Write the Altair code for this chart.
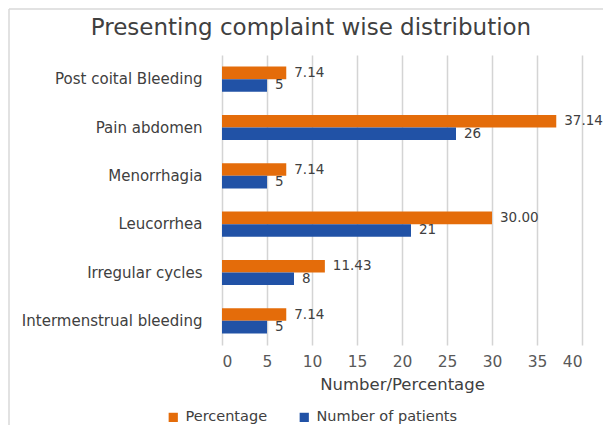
import altair as alt
import pandas as pd

categories = ["Post coital Bleeding", "Pain abdomen", "Menorrhagia",
              "Leucorrhea", "Irregular cycles", "Intermenstrual bleeding"]
percentage = [7.14, 37.14, 7.14, 30.00, 11.43, 7.14]
patients = [5, 26, 5, 21, 8, 5]
series = ["Percentage", "Number of patients"]
colors = ["#E46C0A", "#2152A6"]
x_ticks = [0, 5, 10, 15, 20, 25, 30, 35, 40]
title_text = "Presenting complaint wise distribution"

rows = []
for c, p, n in zip(categories, percentage, patients):
    rows.append({"cat": c, "series": series[0], "value": p, "label": f"{p:.2f}"})
    rows.append({"cat": c, "series": series[1], "value": n, "label": f"{n:d}"})
df = pd.DataFrame(rows)

FONT = "DejaVu Sans"

y_enc = alt.Y("cat:N", sort=categories, title=None,
              scale=alt.Scale(paddingInner=0.48, paddingOuter=0.24),
              axis=alt.Axis(ticks=False, domain=False, labelPadding=20, labelLimit=260,
                            labelFontSize=15, labelColor="#404040", labelFont=FONT))
yoff = alt.YOffset("series:N", sort=series)
x_enc = alt.X("value:Q", title="Number/Percentage",
              scale=alt.Scale(domain=[0, 40], nice=False),
              axis=alt.Axis(values=x_ticks, grid=True, gridColor="#d4d4d4", gridWidth=1.5,
                            ticks=False, domain=False, labelPadding=9,
                            labelFontSize=15.5, labelColor="#595959", labelFont=FONT,
                            titleFontSize=16.5, titleFontWeight="normal", titleColor="#404040",
                            titleFont=FONT, titlePadding=7))

bars = alt.Chart(df).mark_bar().encode(
    y=y_enc, yOffset=yoff, x=x_enc,
    color=alt.Color("series:N", sort=series,
                    scale=alt.Scale(domain=series, range=colors),
                    legend=alt.Legend(title=None, orient="none", direction="horizontal",
                                      legendX=-56, legendY=355, symbolType="square",
                                      symbolSize=85, symbolStrokeWidth=0,
                                      labelFontSize=14.5, labelFont=FONT, labelColor="#404040",
                                      columnPadding=29, labelOffset=5)),
)

labels = alt.Chart(df).mark_text(align="left", dx=8, fontSize=13.5, font=FONT,
                                 color="#404040").encode(
    y=alt.Y("cat:N", sort=categories), yOffset=yoff, x="value:Q", text="label:N"
)

title_df = pd.DataFrame({"t": [title_text]})
title = alt.Chart(title_df).mark_text(fontSize=23, font=FONT, color="#404040",
                                      align="center", baseline="middle").encode(
    x=alt.value(89), y=alt.value(-27), text="t:N"
)

border_left = alt.Chart(title_df).mark_rule(stroke="#d9d9d9", strokeWidth=1.5).encode(
    x=alt.value(-213), y=alt.value(-46), y2=alt.value(400)
)
border_top = alt.Chart(title_df).mark_rule(stroke="#d9d9d9", strokeWidth=1.5).encode(
    x=alt.value(-213), x2=alt.value(400), y=alt.value(-46)
)

chart = alt.layer(border_left, border_top, bars, labels, title).properties(
    width=360, height=290,
    autosize=alt.AutoSizeParams(type="none"),
    padding={"left": 214, "top": 47, "right": 21, "bottom": 80},
).configure_view(stroke=None)

chart.save("out.html", embed_options={"renderer": "svg", "actions": False})
